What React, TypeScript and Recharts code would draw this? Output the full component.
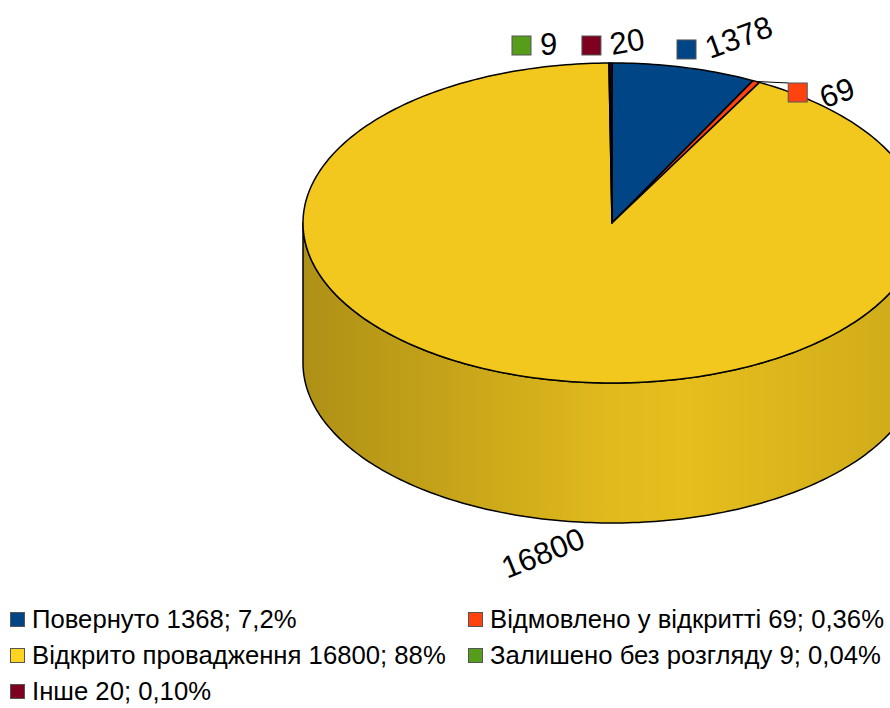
import React from 'react';
import { PieChart, Pie, Cell, Legend } from 'recharts';

// categories and values (clockwise from 12 o'clock)
const categories = ['Повернуто', 'Відмовлено у відкритті', 'Відкрито провадження', 'Залишено без розгляду', 'Інше'];
const sliceValues = [1378, 69, 16800, 9, 20];
const sliceLabels = ['1378', '69', '16800', '9', '20'];
const legendLabels = [
  'Повернуто 1368; 7,2%',
  'Відмовлено у відкритті 69; 0,36%',
  'Відкрито провадження 16800; 88%',
  'Залишено без розгляду 9; 0,04%',
  'Інше 20; 0,10%',
];

const legendColors = ['#004586', '#ff420e', '#ffd320', '#579d1c', '#7e0021'];
const topColors = ['#004586', '#ff420e', '#f2c81f', '#579d1c', '#7e0021'];

const FONT = '"Liberation Sans", Arial, sans-serif';

// pseudo 3D geometry
const CX = 612;
const CY = 223;
const RADIUS = 309;
const TILT = 160 / 309; // vertical squash of the top face
const DEPTH = 140;

// per-label nudges relative to the slice's edge point (LibreOffice style placement)
const labelLayout: any[] = [
  { sq: [-7.5, -27.5], tx: [25.5, -8.5], rot: -20, anchor: 'start' },
  { sq: [32, 1.5], tx: [68, 27], rot: -19, anchor: 'start', line: true },
  { sq: null, tx: [9.6, 44.7], rot: -22, anchor: 'middle' },
  { sq: [-97.4, -27], tx: [-69.4, -8], rot: 0, anchor: 'start' },
  { sq: [-29, -27], tx: [1, -8], rot: -10, anchor: 'start' },
];

const rows = categories.map((name, i) => ({
  name,
  value: sliceValues[i],
  idx: i,
}));

const RAD = Math.PI / 180;
const ellipsePoint = (cx: number, cy: number, r: number, a: number) => [
  cx + r * Math.cos(a * RAD),
  cy - r * TILT * Math.sin(a * RAD),
];

const shade = (hex: string, f: number) => {
  const n = parseInt(hex.slice(1), 16);
  const c = [(n >> 16) & 255, (n >> 8) & 255, n & 255].map((v) => Math.round(Math.min(255, v * f)));
  return `rgb(${c[0]},${c[1]},${c[2]})`;
};

const arcPoints = (cx: number, cy: number, r: number, from: number, to: number, dy = 0) => {
  const steps = Math.max(2, Math.ceil(Math.abs(from - to)));
  const pts: string[] = [];
  for (let i = 0; i <= steps; i++) {
    const a = from + ((to - from) * i) / steps;
    const [x, y] = ellipsePoint(cx, cy, r, a);
    pts.push(`${x.toFixed(2)},${(y + dy).toFixed(2)}`);
  }
  return pts;
};

const TopSlice = (props: any) => {
  const { cx, cy, outerRadius, startAngle, endAngle, fill } = props;
  const pts = arcPoints(cx, cy, outerRadius, startAngle, endAngle);
  const d = `M${cx},${cy}L${pts.join('L')}Z`;
  return <path d={d} fill={fill} stroke="#000" strokeWidth={1.5} strokeLinejoin="round" />;
};

const SideSlice = (props: any) => {
  const { cx, cy, outerRadius, startAngle, endAngle } = props;
  const idx = props.payload?.idx ?? props.idx ?? 0;
  const s = Math.max(startAngle, endAngle);
  const e = Math.min(startAngle, endAngle);
  // only the front half of the rim is visible
  const hi = Math.min(s, 0);
  const lo = Math.max(e, -180);
  if (hi <= lo) return <g />;
  const topArc = arcPoints(cx, cy, outerRadius, hi, lo);
  const bottomArc = arcPoints(cx, cy, outerRadius, lo, hi, DEPTH);
  const d = `M${topArc.join('L')}L${bottomArc.join('L')}Z`;
  return <path d={d} fill={`url(#side-${idx})`} stroke="#000" strokeWidth={1.5} strokeLinejoin="round" />;
};

const renderLabel = (props: any) => {
  const { cx, cy, midAngle, outerRadius } = props;
  const idx = props.payload?.idx ?? props.index;
  const lay = labelLayout[idx];
  const [ax, topY] = ellipsePoint(cx, cy, outerRadius, midAngle);
  const ay = Math.sin(midAngle * RAD) < 0 ? topY + DEPTH : topY;
  const tx = ax + lay.tx[0];
  const ty = ay + lay.tx[1];
  return (
    <g key={`lbl-${idx}`}>
      {lay.line && (
        <line x1={ax} y1={ay} x2={ax + lay.sq[0]} y2={ay + lay.sq[1]} stroke="#000" strokeWidth={1} />
      )}
      {lay.sq && (
        <rect
          x={ax + lay.sq[0]}
          y={ay + lay.sq[1]}
          width={19}
          height={19}
          fill={legendColors[idx]}
          stroke="#555"
          strokeWidth={1}
        />
      )}
      <text
        x={tx}
        y={ty}
        transform={`rotate(${lay.rot} ${tx} ${ty})`}
        textAnchor={lay.anchor}
        fontFamily={FONT}
        fontSize={31}
        fill="#000"
      >
        {sliceLabels[idx]}
      </text>
    </g>
  );
};

const renderLegend = (props: any) => {
  const items = (props.payload || [])
    .filter((p: any) => p.type !== 'none')
    .map((p: any, i: number) => p.payload?.idx ?? i)
    .sort((a: number, b: number) => a - b);
  return (
    <div
      style={{
        display: 'grid',
        gridTemplateColumns: '458px auto',
        fontFamily: FONT,
        fontSize: 25.7,
        lineHeight: '36px',
        color: '#000',
      }}
    >
      {items.map((idx: number) => (
        <div key={`leg-${idx}`} style={{ display: 'flex', alignItems: 'center', height: 36, whiteSpace: 'nowrap' }}>
          <span
            style={{
              display: 'inline-block',
              width: 13,
              height: 13,
              background: legendColors[idx],
              border: '1px solid #555',
              marginRight: 7,
            }}
          />
          <span>{legendLabels[idx]}</span>
        </div>
      ))}
    </div>
  );
};

const App: React.FC = () => {
  return (
    <div style={{ position: 'absolute', left: 0, top: 0, width: 890, height: 708, background: '#fff' }}>
      <PieChart width={890} height={708} margin={{ top: 0, right: 0, bottom: 0, left: 0 }}>
        <defs>
          {topColors.map((c, i) => (
            <linearGradient
              key={`g-${i}`}
              id={`side-${i}`}
              gradientUnits="userSpaceOnUse"
              x1={CX - RADIUS}
              y1={0}
              x2={CX + RADIUS}
              y2={0}
            >
              <stop offset="0%" stopColor={shade(c, 0.72)} />
              <stop offset="50%" stopColor={shade(c, 0.93)} />
              <stop offset="62%" stopColor={shade(c, 0.95)} />
              <stop offset="100%" stopColor={shade(c, 0.85)} />
            </linearGradient>
          ))}
        </defs>
        {/* rim of the cylinder */}
        <Pie
          data={rows}
          dataKey="value"
          nameKey="name"
          cx={CX}
          cy={CY}
          outerRadius={RADIUS}
          startAngle={90}
          endAngle={-270}
          legendType="none"
          shape={SideSlice}
          inactiveShape={SideSlice}
          activeShape={SideSlice}
          isAnimationActive={false}
          label={false}
          labelLine={false}
        >
          {rows.map((r, i) => (
            <Cell key={`side-cell-${i}`} fill={topColors[i]} />
          ))}
        </Pie>
        {/* top face */}
        <Pie
          data={rows}
          dataKey="value"
          nameKey="name"
          cx={CX}
          cy={CY}
          outerRadius={RADIUS}
          startAngle={90}
          endAngle={-270}
          shape={TopSlice}
          inactiveShape={TopSlice}
          activeShape={TopSlice}
          isAnimationActive={false}
          label={renderLabel}
          labelLine={false}
        >
          {rows.map((r, i) => (
            <Cell key={`top-cell-${i}`} fill={topColors[i]} />
          ))}
        </Pie>
        <Legend
          content={renderLegend}
          wrapperStyle={{ position: 'absolute', left: 10, top: 601, width: 880, height: 108 }}
        />
      </PieChart>
    </div>
  );
};

export default App;
